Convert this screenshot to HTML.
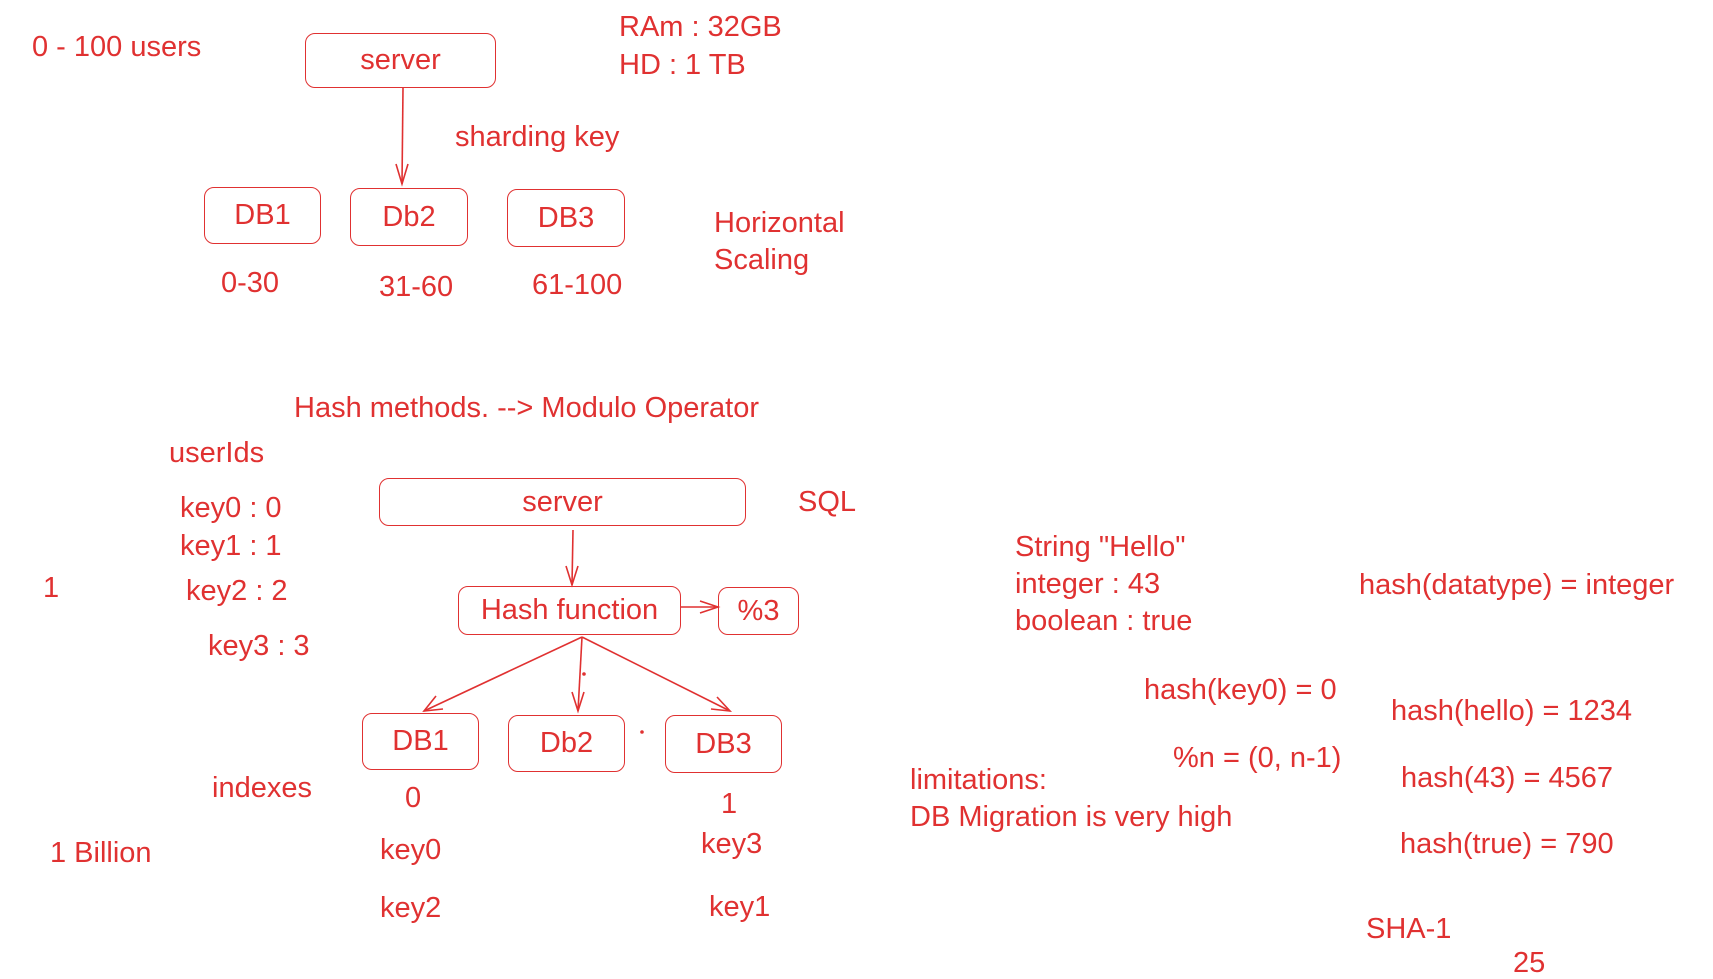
<!DOCTYPE html>
<html><head><meta charset="utf-8"><style>
html,body{margin:0;padding:0;background:#fff;width:1713px;height:979px;overflow:hidden;position:relative}
#w{position:absolute;left:-1px;top:0px;width:1713px;height:979px}
.t{position:absolute;font-family:"Liberation Sans",sans-serif;font-size:29px;color:#e03131;white-space:nowrap;line-height:32px;transform:translateY(-50%)}
.b{position:absolute;border:1.8px solid #e03131;border-radius:10px;box-sizing:border-box;display:flex;align-items:center;justify-content:center;font-family:"Liberation Sans",sans-serif;font-size:29px;color:#e03131}
svg{position:absolute;left:0;top:0}
</style></head><body><div id="w">
<svg width="1713" height="979" fill="none" stroke="#e03131" stroke-width="1.6">
<line x1="404" y1="88" x2="403" y2="184"/><polyline points="397,164 403,184 409,164"/>
<line x1="574" y1="530" x2="573" y2="585"/><polyline points="567,566 573,585 579,566"/>
<line x1="682" y1="607" x2="719" y2="607"/><polyline points="701,601 719,607 701,613"/>
<line x1="583" y1="637" x2="425" y2="711"/><polyline points="437,696 425,711 444,709"/>
<line x1="583" y1="637" x2="579" y2="711"/><polyline points="573,692 579,711 585,692"/>
<line x1="583" y1="637" x2="731" y2="711"/><polyline points="712,709 731,711 718,697"/>
<circle cx="585" cy="674" r="1" fill="#e03131"/><circle cx="643" cy="732" r="1" fill="#e03131"/>
</svg>
<div class="t" style="left:33px;top:47px">0 - 100 users</div>
<div class="b" style="left:306px;top:33px;width:191px;height:55px">server</div>
<div class="t" style="left:620px;top:27px">RAm : 32GB</div>
<div class="t" style="left:620px;top:65px">HD : 1 TB</div>
<div class="t" style="left:456px;top:137px">sharding key</div>
<div class="b" style="left:205px;top:187px;width:117px;height:57px">DB1</div>
<div class="b" style="left:351px;top:188px;width:118px;height:58px">Db2</div>
<div class="b" style="left:508px;top:189px;width:118px;height:58px">DB3</div>
<div class="t" style="left:715px;top:223px">Horizontal</div>
<div class="t" style="left:715px;top:260px">Scaling</div>
<div class="t" style="left:222px;top:283px">0-30</div>
<div class="t" style="left:380px;top:287px">31-60</div>
<div class="t" style="left:533px;top:285px">61-100</div>
<div class="t" style="left:295px;top:408px">Hash methods. --&gt; Modulo Operator</div>
<div class="t" style="left:170px;top:453px">userIds</div>
<div class="b" style="left:380px;top:478px;width:367px;height:48px">server</div>
<div class="t" style="left:799px;top:502px">SQL</div>
<div class="t" style="left:181px;top:508px">key0 : 0</div>
<div class="t" style="left:181px;top:546px">key1 : 1</div>
<div class="t" style="left:187px;top:591px">key2 : 2</div>
<div class="t" style="left:209px;top:646px">key3 : 3</div>
<div class="t" style="left:44px;top:588px">1</div>
<div class="b" style="left:459px;top:586px;width:223px;height:49px">Hash function</div>
<div class="b" style="left:719px;top:587px;width:81px;height:48px">%3</div>
<div class="b" style="left:363px;top:713px;width:117px;height:57px">DB1</div>
<div class="b" style="left:509px;top:715px;width:117px;height:57px">Db2</div>
<div class="b" style="left:666px;top:715px;width:117px;height:58px">DB3</div>
<div class="t" style="left:213px;top:788px">indexes</div>
<div class="t" style="left:406px;top:798px">0</div>
<div class="t" style="left:722px;top:804px">1</div>
<div class="t" style="left:381px;top:850px">key0</div>
<div class="t" style="left:381px;top:908px">key2</div>
<div class="t" style="left:702px;top:844px">key3</div>
<div class="t" style="left:710px;top:907px">key1</div>
<div class="t" style="left:51px;top:853px">1 Billion</div>
<div class="t" style="left:1016px;top:547px">String "Hello"</div>
<div class="t" style="left:1016px;top:584px">integer : 43</div>
<div class="t" style="left:1016px;top:621px">boolean : true</div>
<div class="t" style="left:1360px;top:585px">hash(datatype) = integer</div>
<div class="t" style="left:1145px;top:690px">hash(key0) = 0</div>
<div class="t" style="left:1392px;top:711px">hash(hello) = 1234</div>
<div class="t" style="left:1174px;top:758px">%n = (0, n-1)</div>
<div class="t" style="left:911px;top:780px">limitations:</div>
<div class="t" style="left:911px;top:817px">DB Migration is very high</div>
<div class="t" style="left:1402px;top:778px">hash(43) = 4567</div>
<div class="t" style="left:1401px;top:844px">hash(true) = 790</div>
<div class="t" style="left:1367px;top:929px">SHA-1</div>
<div class="t" style="left:1514px;top:963px">25</div>
</div></body></html>
